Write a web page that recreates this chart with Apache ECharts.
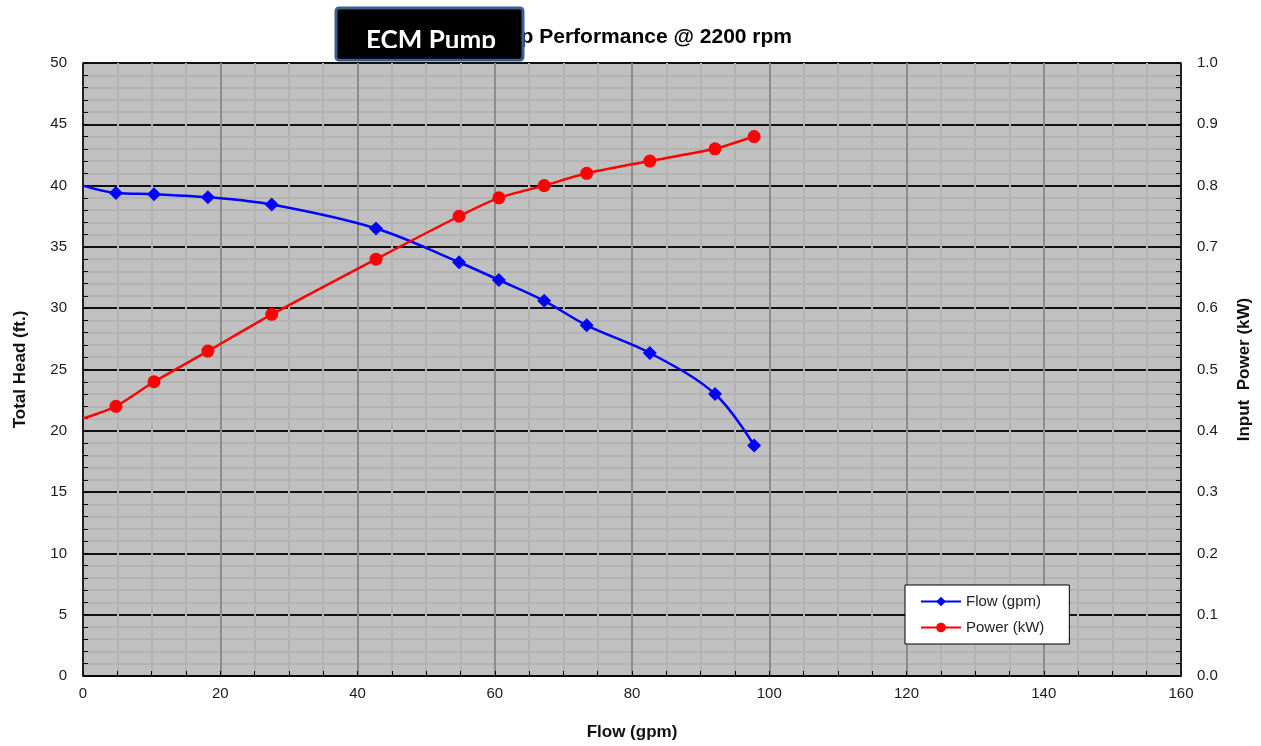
<!DOCTYPE html>
<html>
<head>
<meta charset="utf-8">
<script src="https://cdn.jsdelivr.net/npm/echarts@6/dist/echarts.min.js"></script>
<style>
html,body{margin:0;padding:0;background:#fff;}
#chart{width:1261px;height:746px;}
</style>
</head>
<body>
<div id="chart"></div>
<script>
// ---- Data ----
const flowGpm = [0, 4.8, 10.35, 18.2, 27.5, 42.7, 54.8, 60.6, 67.2, 73.4, 82.6, 92.1, 97.8];
const headFt  = [40, 39.4, 39.3, 39.05, 38.45, 36.5, 33.75, 32.3, 30.6, 28.6, 26.35, 23.0, 18.8];
const powerKw = [0.42, 0.44, 0.48, 0.53, 0.59, 0.68, 0.75, 0.78, 0.80, 0.82, 0.84, 0.86, 0.88];
const titleText = 'Pump Performance @ 2200 rpm';
const boxText = 'ECM Pump';
const seriesNames = ['Flow (gpm)', 'Power (kW)'];
const xName = 'Flow (gpm)';
const yLeftName = 'Total Head (ft.)';
const yRightName = 'Input  Power (kW)';

const headData = flowGpm.map((x, i) => [x, headFt[i]]);
const powerData = flowGpm.map((x, i) => [x, powerKw[i]]);

const chart = echarts.init(document.getElementById('chart'));
const font = 'Liberation Sans, Arial, sans-serif';

chart.setOption({
  animation: false,
  backgroundColor: '#fff',
  textStyle: { fontFamily: font },
  grid: { left: 83, right: 80, top: 63, bottom: 69, show: true, backgroundColor: '#c0c0c0', borderColor: '#8c8c8c', borderWidth: 1 },
  legend: {
    orient: 'vertical', left: 905, top: 585,
    padding: [9, 25, 9, 15], itemGap: 11, itemWidth: 40, itemHeight: 12,
    backgroundColor: '#fff', borderColor: '#000', borderWidth: 1,
    textStyle: { fontFamily: font, fontSize: 15, color: '#222' },
    data: seriesNames
  },
  xAxis: {
    type: 'value', min: 0, max: 160, interval: 20,
    name: xName, nameLocation: 'middle', nameGap: 48,
    nameTextStyle: { fontFamily: font, fontSize: 17, fontWeight: 'bold', color: '#111' },
    axisLine: { show: true, onZero: false, lineStyle: { color: '#000', width: 1.5 } },
    axisTick: { show: true, inside: true, length: 5, lineStyle: { color: '#000' } },
    minorTick: { show: true, splitNumber: 4, length: 5, lineStyle: { color: '#000' } },
    axisLabel: { fontFamily: font, fontSize: 15, color: '#1a1a1a', margin: 10 },
    splitLine: { show: true, lineStyle: { color: '#8c8c8c', width: 2 } },
    minorSplitLine: { show: true, lineStyle: { color: '#b3b3b3', width: 2 } }
  },
  yAxis: [
    {
      type: 'value', min: 0, max: 50, interval: 5,
      name: yLeftName, nameLocation: 'middle', nameGap: 54, nameRotate: 90,
      nameTextStyle: { fontFamily: font, fontSize: 17, fontWeight: 'bold', color: '#111' },
      axisLine: { show: true, onZero: false, lineStyle: { color: '#000', width: 1.5 } },
      axisTick: { show: true, inside: true, length: 5, lineStyle: { color: '#000' } },
      minorTick: { show: true, splitNumber: 5, length: 5, lineStyle: { color: '#000' } },
      axisLabel: { fontFamily: font, fontSize: 15, color: '#1a1a1a', margin: 16 },
      splitLine: { show: true, lineStyle: { color: '#111', width: 2 } },
      minorSplitLine: { show: true, lineStyle: { color: '#b3b3b3', width: 2 } }
    },
    {
      type: 'value', min: 0, max: 1, interval: 0.1, position: 'right',
      name: yRightName, nameLocation: 'middle', nameGap: 55, nameRotate: 90,
      nameTextStyle: { fontFamily: font, fontSize: 17, fontWeight: 'bold', color: '#111' },
      axisLine: { show: true, onZero: false, lineStyle: { color: '#000', width: 1.5 } },
      axisTick: { show: true, inside: true, length: 5, lineStyle: { color: '#000' } },
      minorTick: { show: true, splitNumber: 5, length: 5, lineStyle: { color: '#000' } },
      axisLabel: { fontFamily: font, fontSize: 15, color: '#1a1a1a', margin: 16, formatter: v => v.toFixed(1) },
      splitLine: { show: false },
      minorSplitLine: { show: false }
    }
  ],
  series: [
    {
      name: seriesNames[0], type: 'line', yAxisIndex: 0, data: headData,
      smooth: 0.35, symbol: 'diamond', symbolSize: (v, p) => (p.dataIndex === 0 ? 0 : 14),
      lineStyle: { color: '#0000ff', width: 2.5 },
      itemStyle: { color: '#0000ff' }, z: 3
    },
    {
      name: seriesNames[1], type: 'line', yAxisIndex: 1, data: powerData,
      smooth: 0.2, symbol: 'circle', symbolSize: (v, p) => (p.dataIndex === 0 ? 0 : 13),
      lineStyle: { color: '#ff0000', width: 2.5 },
      itemStyle: { color: '#ff0000' }, z: 3
    }
  ],
  graphic: [
    { type: 'text', right: 1261 - 792, top: 27, z: 10,
      style: { text: titleText, fontFamily: font, fontSize: 21, fontWeight: 'bold', fill: '#000' } },
    { type: 'rect', shape: { x: 336, y: 8, width: 187, height: 52, r: 3 }, z: 20,
      style: { fill: '#000', stroke: '#3c5f8f', lineWidth: 3 } },
    { type: 'text', x: 431, y: 53.5, z: 21,
      style: { text: boxText, fontFamily: 'Lato, Open Sans, sans-serif', fontSize: 26, fontWeight: 'bold', fill: '#fff', textAlign: 'center', textVerticalAlign: 'bottom' } },
    { type: 'rect', shape: { x: 339, y: 48, width: 181, height: 10.5 }, z: 22,
      style: { fill: '#000' } }
  ]
});
</script>
</body>
</html>
